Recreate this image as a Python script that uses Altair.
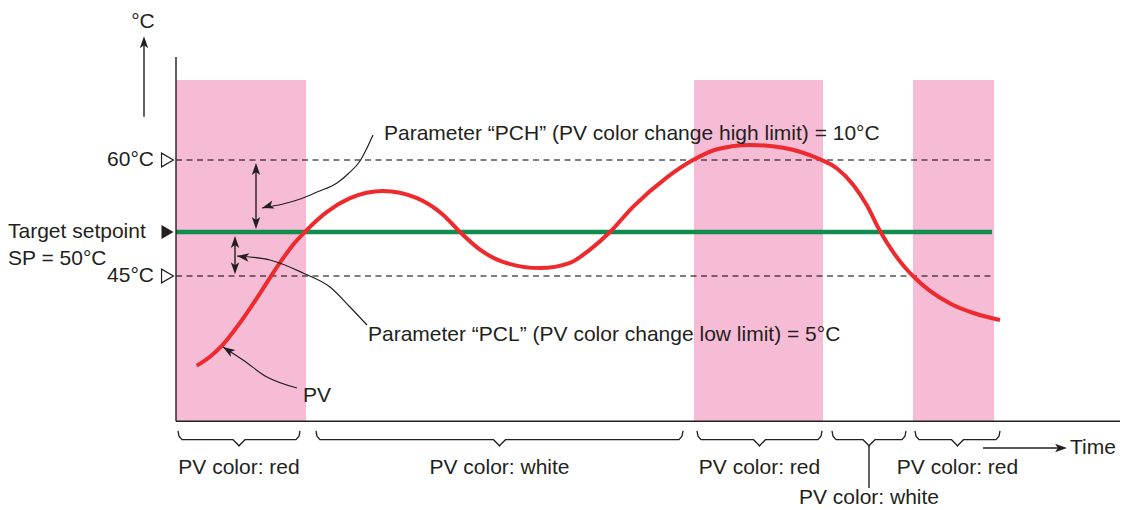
import altair as alt
import pandas as pd

# ---------------- values ----------------
HIGH_LIMIT = 60      # °C  (SP + PCH)
SETPOINT = 50        # °C
LOW_LIMIT = 45       # °C  (SP - PCL)

PV_TIME = [2.07, 3.4, 4.57, 5.73, 7.07, 8.4, 9.57, 10.73, 11.73, 12.9, 15.1, 17.4,
           20.7, 24.1, 26.7, 28.4, 30.4, 32.7, 36.4, 39.4, 41.4, 43.4, 45.7, 49.1,
           51.7, 54.1, 57.4, 60.7, 62.4, 64.4, 66.07, 67.73, 69.07, 70.4, 71.7,
           72.9, 73.9, 75.4, 77.4, 79.9, 82.4]
PV_TEMP = [34.81, 35.83, 37.05, 38.67, 40.76, 43.03, 45.11, 47.05, 48.58, 50.03, 52.8, 54.7,
           55.7, 54.7, 52.4, 50.0, 48.0, 46.6, 45.9, 46.5, 48.0, 50.0, 53.5, 57.6,
           60.0, 61.5, 62.1, 61.7, 61.15, 60.1, 58.85, 56.53, 53.75, 50.14, 47.73,
           45.97, 44.77, 43.3, 41.88, 40.74, 40.0]

BAND_START = [0.0, 51.8, 73.7]
BAND_END = [13.0, 64.7, 81.8]

SEG_START = [0.2, 14.0, 52.1, 65.6, 73.9]
SEG_END = [12.4, 50.7, 64.6, 73.0, 82.4]
SEG_LABEL = ["PV color: red", "PV color: white", "PV color: red",
             "PV color: white", "PV color: red"]
SEG_DROP = [False, False, False, True, False]

LEVEL_LABELS = ["60°C", "45°C"]
PCH_TEXT = "Parameter “PCH” (PV color change high limit) = 10°C"
PCL_TEXT = "Parameter “PCL” (PV color change low limit) = 5°C"

# ---------------- styling ----------------
INK = "#231F20"
PINK = "#F6BCD6"
RED = "#EE2A2E"
GREEN = "#108C4F"
FONT = "Liberation Sans"
FS = 21

T_END = 81.7          # end of the reference lines
AX_T_END = 94.7       # end of the time axis
AX_Y_BOT = 28.5       # temperature at the time axis
AX_Y_TOP = 74.3
BAND_TOP = 71.1

XS = alt.Scale(domain=[-16.8, 94.4], nice=False, zero=False)
YS = alt.Scale(domain=[LOW_LIMIT, SETPOINT, HIGH_LIMIT], range=[268, 224, 152],
               nice=False, zero=False)


def X(f="t"):
    return alt.X(f"{f}:Q", scale=XS, axis=None)


def Y(f="T"):
    return alt.Y(f"{f}:Q", scale=YS, axis=None)


# ---------------- layers ----------------
bands = alt.Chart(pd.DataFrame({"t": BAND_START, "t2": BAND_END,
                                "T": [AX_Y_BOT] * 3, "T2": [BAND_TOP] * 3})
                  ).mark_rect(color=PINK).encode(x=X(), x2="t2", y=Y(), y2="T2")

dashed = alt.Chart(pd.DataFrame({"t": [0, 0], "t2": [T_END, T_END],
                                 "T": [HIGH_LIMIT, LOW_LIMIT]})
                   ).mark_rule(color="#000000", strokeWidth=1.2, strokeDash=[6, 4.5]
                               ).encode(x=X(), x2="t2", y=Y())

sp_line = alt.Chart(pd.DataFrame({"t": [0], "t2": [81.6], "T": [SETPOINT]})
                    ).mark_rule(color=GREEN, strokeWidth=4.5
                                ).encode(x=X(), x2="t2", y=Y())

pv = alt.Chart(pd.DataFrame({"t": PV_TIME, "T": PV_TEMP})
               ).mark_line(color=RED, strokeWidth=4, interpolate="monotone"
                           ).encode(x=X(), y=Y())

# axes (drawn as rules)
axes = alt.Chart(pd.DataFrame({
    "t": [0, 0, -3.2, 8.0, 5.9, 80.7, 69.3],
    "t2": [0, AX_T_END, -3.2, 8.0, 5.9, 88.2, 69.3],
    "T": [AX_Y_BOT, AX_Y_BOT, 66.0, 58.9, 48.9, 25.45, 25.68],
    "T2": [AX_Y_TOP, AX_Y_BOT, 76.5, 51.1, 45.8, 25.45, 20.9],
})).mark_rule(color=INK, strokeWidth=1.4).encode(x=X(), x2="t2", y=Y(), y2="T2")

# braces under the time axis
brace_rows = []
for i, (s, e) in enumerate(zip(SEG_START, SEG_END)):
    m = (s + e) / 2
    pts = [(s, 27.4), (s + 0.1, 26.8), (s + 0.4, 26.4), (m - 0.6, 26.4),
           (m - 0.12, 25.85), (m, 25.68), (m + 0.12, 25.85), (m + 0.6, 26.4),
           (e - 0.4, 26.4), (e - 0.1, 26.8), (e, 27.4)]
    for k, (a, b) in enumerate(pts):
        brace_rows.append({"g": i, "k": k, "t": a, "T": b})
braces = alt.Chart(pd.DataFrame(brace_rows)).mark_line(
    color=INK, strokeWidth=1.3).encode(x=X(), y=Y(), detail="g:N", order="k:Q")

# curved leader arrows
curve_rows = []
curves = {
    "pch": [(19.7, 63.47), (19.0, 61.39), (18.4, 59.86), (17.2, 58.06), (16.1, 56.81),
            (14.1, 55.56), (12.7, 54.72), (10.7, 53.89), (8.6, 53.33)],
    "pcl": [(6.1, 47.27), (9.4, 46.82), (12.7, 45.34), (15.4, 43.75), (17.4, 41.48),
            (19.1, 39.43)],
    "pv": [(4.7, 36.93), (6.7, 35.45), (9.1, 33.52), (12.1, 32.27)],
}
for name, pts in curves.items():
    for a, b in pts:
        curve_rows.append({"g": name, "t": a, "T": b})
leaders = alt.Chart(pd.DataFrame(curve_rows)).mark_line(
    color=INK, strokeWidth=1.2, interpolate="monotone").encode(x=X(), y=Y(), detail="g:N")

ARROW = "M0,0L0.42,1.2L0,0.9L-0.42,1.2Z"
heads = alt.Chart(pd.DataFrame({
    "t": [-3.2, 89.1, 8.0, 8.0, 5.9, 5.9, 8.6, 6.1, 4.7],
    "T": [77.2, 25.45, 59.6, 50.4, 49.55, 45.2, 53.33, 47.27, 36.93],
    "a": [0, 90, 0, 180, 0, 180, 253, 277, 303],
})).mark_point(shape=ARROW, filled=True, size=400, color=INK, opacity=1,
               strokeWidth=0).encode(x=X(), y=Y(), angle=alt.Angle("a:Q", scale=None))

tri_open = alt.Chart(pd.DataFrame({"t": [-0.85, -0.85], "T": [HIGH_LIMIT, LOW_LIMIT]})
                     ).mark_point(shape="triangle-right", size=190, filled=True,
                                  fill="white", stroke=INK, strokeWidth=1.2, opacity=1
                                  ).encode(x=X(), y=Y())
tri_fill = alt.Chart(pd.DataFrame({"t": [-0.85], "T": [SETPOINT]})
                     ).mark_point(shape="triangle-right", size=190, filled=True,
                                  color=INK, opacity=1).encode(x=X(), y=Y())

# texts
txt_kw = dict(font=FONT, fontSize=FS, color=INK, baseline="middle")
left_txt = alt.Chart(pd.DataFrame({
    "t": [-16.8, -16.8, 20.8, 19.2, 12.7, 89.4],
    "T": [SETPOINT - 0.05, 46.9, 63.6, 38.3, 31.4, 25.45],
    "s": ["Target setpoint", "SP = 50°C", PCH_TEXT, PCL_TEXT, "PV", "Time"],
})).mark_text(align="left", **txt_kw).encode(x=X(), y=Y(), text="s:N")

right_txt = alt.Chart(pd.DataFrame({
    "t": [-2.2, -2.2], "T": [HIGH_LIMIT, LOW_LIMIT], "s": LEVEL_LABELS,
})).mark_text(align="right", **txt_kw).encode(x=X(), y=Y(), text="s:N")

center_txt = alt.Chart(pd.DataFrame({
    "t": [-3.3] + [(s + e) / 2 for s, e in zip(SEG_START, SEG_END)],
    "T": [79.2] + [19.8 if d else 23.2 for d in SEG_DROP],
    "s": ["°C"] + SEG_LABEL,
})).mark_text(align="center", **txt_kw).encode(x=X(), y=Y(), text="s:N")

chart = alt.layer(
    bands, dashed, sp_line, pv, axes, braces, leaders, heads, tri_open, tri_fill,
    left_txt, right_txt, center_txt,
).properties(
    width=1112, height=502, padding=0,
    autosize=alt.AutoSizeParams(type="none"),
    background="white",
).configure_view(stroke=None)

chart.save("out.html", embed_options={"renderer": "svg", "actions": False})
